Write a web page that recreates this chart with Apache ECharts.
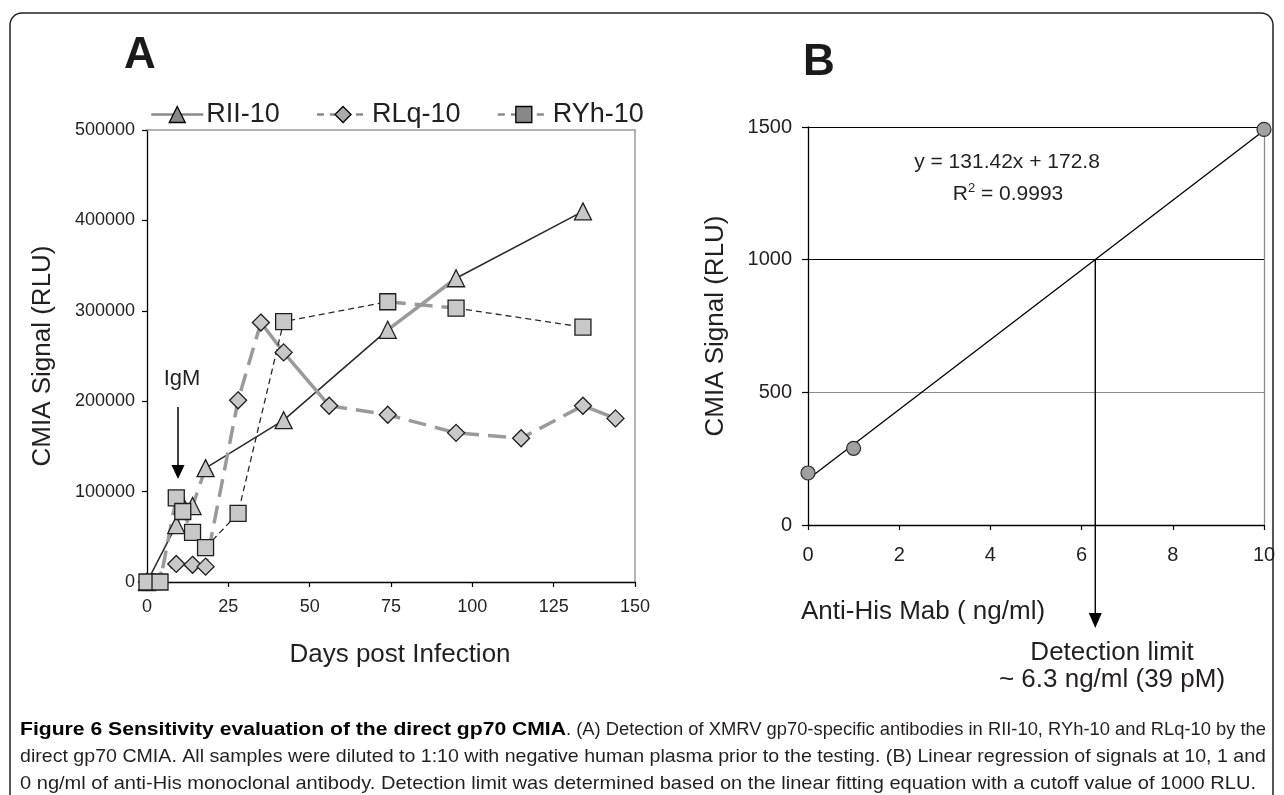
<!DOCTYPE html>
<html><head><meta charset="utf-8">
<script src="https://cdn.jsdelivr.net/npm/echarts@6/dist/echarts.min.js"></script>
<style>html,body{margin:0;padding:0;background:#fff}#c{width:1284px;height:795px}</style>
</head><body><div id="c"></div>
<script>
// ---------- Panel A data (days post infection, CMIA signal RLU) ----------
const seriesNames = ['RII-10', 'RLq-10', 'RYh-10'];
const riiDays   = [0, 9, 11, 14, 18, 42, 74, 95, 134];
const riiValues = [0, 63000, 85000, 84000, 126000, 179000, 279000, 336000, 410000];
const rlqDays   = [0, 9, 14, 18, 28, 35, 42, 56, 74, 95, 115, 134, 144];
const rlqValues = [0, 20000, 19000, 17000, 201000, 287000, 254000, 195000, 185000, 165000, 159000, 195000, 181000];
const ryhDays   = [0, 4, 9, 11, 14, 18, 28, 42, 74, 95, 134];
const ryhValues = [0, 0, 93000, 78000, 55000, 38000, 76000, 288000, 310000, 303000, 282000];
const xTicksA = [0, 25, 50, 75, 100, 125, 150];
const yTicksA = [0, 100000, 200000, 300000, 400000, 500000];

// ---------- Panel B data (anti-His Mab ng/ml, CMIA signal RLU) ----------
const mabConc   = [0, 1, 10];
const mabSignal = [196, 289, 1491];
const fitConc   = [0, 10];
const fitSignal = [172.8, 1487];
const detectionConc = 6.3;
const cutoffSignal  = 1000;
const xTicksB = [0, 2, 4, 6, 8, 10];
const yTicksB = [0, 500, 1000, 1500];

// ---------- styles ----------
const FONT = '"Liberation Sans", Arial, sans-serif';
const TXT = '#231f20';
const segStyles = {
  darkSolid: {color: '#2b2b2b', width: 1.6, type: 'solid'},
  greySolid: {color: '#9a9a9a', width: 3.5, type: 'solid'},
  greyDash:  {color: '#9a9a9a', width: 3.5, type: [18, 9]},
  darkDash:  {color: '#2b2b2b', width: 1.3, type: [6, 4]}
};
// segment styling by point index ranges
const riiSegs = [[0,1,'darkSolid'],[1,4,'greyDash'],[4,6,'darkSolid'],[6,7,'greySolid'],[7,8,'darkSolid']];
const rlqSegs = [[0,5,'greyDash'],[5,7,'greySolid'],[7,11,'greyDash'],[11,12,'greySolid']];
const ryhSegs = [[0,5,'greyDash'],[5,8,'darkDash'],[8,9,'greyDash'],[9,10,'darkDash']];

function segSeries(name, days, vals, segs) {
  return segs.map(([a, b, key], k) => ({
    type: 'line', name: name + ' seg' + k, xAxisIndex: 0, yAxisIndex: 0,
    data: days.slice(a, b + 1).map((d, i) => [d, vals[a + i]]),
    symbol: 'none', showSymbol: false, lineStyle: segStyles[key], z: 2, silent: true
  }));
}
function markerSeries(name, days, vals, symbol, size) {
  return {
    type: 'line', name: name, xAxisIndex: 0, yAxisIndex: 0,
    data: days.map((d, i) => [d, vals[i]]),
    symbol: symbol, symbolSize: size, showSymbol: true,
    lineStyle: {width: 0, opacity: 0},
    itemStyle: {color: '#c8c8c8', borderColor: '#1e1e1e', borderWidth: 1.3},
    z: 4
  };
}

const chart = echarts.init(document.getElementById('c'));

const axisBase = {
  axisLine: {show: true, onZero: false, lineStyle: {color: '#000', width: 1.3}},
  axisTick: {show: true, inside: false, length: 5, lineStyle: {color: '#000', width: 1.2}},
  splitLine: {show: false}
};
const borderAxis = {
  axisLine: {show: true, onZero: false, lineStyle: {color: '#9a9a9a', width: 1.5}},
  axisTick: {show: false}, axisLabel: {show: false}, splitLine: {show: false}
};

const option = {
  animation: false,
  backgroundColor: '#fff',
  textStyle: {fontFamily: FONT},
  grid: [
    {left: 147, top: 130, width: 488, height: 452, outerBoundsMode: 'none', containLabel: false},
    {left: 808, top: 127, width: 456, height: 398, outerBoundsMode: 'none', containLabel: false}
  ],
  legend: {
    left: 150, top: 101, padding: 0, itemGap: 36, itemWidth: 52, itemHeight: 20,
    textStyle: {fontSize: 27, fontFamily: FONT, color: TXT, padding: [0, 0, 0, -2]},
    selectedMode: false,
    data: [
      {name: seriesNames[0], itemStyle: {color: '#888', borderColor: '#000', borderWidth: 1.3},
       lineStyle: {color: '#8a8a8a', width: 2.5, type: 'solid', opacity: 1}},
      {name: seriesNames[1], itemStyle: {color: '#aaa', borderColor: '#000', borderWidth: 1.3},
       lineStyle: {color: '#8a8a8a', width: 2.5, type: [7, 6], opacity: 1}},
      {name: seriesNames[2], itemStyle: {color: '#888', borderColor: '#000', borderWidth: 1.3},
       lineStyle: {color: '#8a8a8a', width: 2.5, type: [7, 6], opacity: 1}}
    ]
  },
  xAxis: [
    Object.assign({}, axisBase, {
      type: 'value', gridIndex: 0, min: xTicksA[0], max: xTicksA[xTicksA.length - 1], interval: 25,
      axisLabel: {fontSize: 18, color: TXT, margin: 16, fontFamily: FONT},
      name: 'Days post Infection', nameLocation: 'middle', nameGap: 60,
      nameTextStyle: {fontSize: 26, color: TXT, fontFamily: FONT, padding: [0, 0, 0, 18]}
    }),
    Object.assign({}, borderAxis, {type: 'value', gridIndex: 0, position: 'top', min: 0, max: 150}),
    Object.assign({}, axisBase, {
      type: 'value', gridIndex: 1, min: xTicksB[0], max: xTicksB[xTicksB.length - 1], interval: 2,
      axisLabel: {fontSize: 20, color: TXT, margin: 20, fontFamily: FONT}
    })
  ],
  yAxis: [
    Object.assign({}, axisBase, {
      type: 'value', gridIndex: 0, min: yTicksA[0], max: yTicksA[yTicksA.length - 1], interval: 100000,
      axisLabel: {fontSize: 18, color: TXT, margin: 12, fontFamily: FONT, formatter: v => String(v)},
      name: 'CMIA Signal (RLU)', nameLocation: 'middle', nameGap: 91, nameRotate: 90,
      nameTextStyle: {fontSize: 26, color: TXT, fontFamily: FONT}, nameMoveOverlap: false
    }),
    Object.assign({}, borderAxis, {type: 'value', gridIndex: 0, position: 'right', min: 0, max: 500000}),
    Object.assign({}, axisBase, {
      type: 'value', gridIndex: 1, min: yTicksB[0], max: yTicksB[yTicksB.length - 1], interval: 500,
      axisTick: {show: true, inside: false, length: 6, lineStyle: {color: '#000', width: 1.2}},
      axisLabel: {fontSize: 20, color: TXT, margin: 16, fontFamily: FONT, formatter: v => String(v)},
      splitLine: {show: true, lineStyle: {color: ['#000', '#8a8a8a', '#000', '#000'], width: 1.2}},
      name: 'CMIA Signal (RLU)', nameLocation: 'middle', nameGap: 79, nameRotate: 90,
      nameTextStyle: {fontSize: 26, color: TXT, fontFamily: FONT}, nameMoveOverlap: false
    }),
    Object.assign({}, borderAxis, {type: 'value', gridIndex: 1, position: 'right', min: 0, max: 1500,
      axisLine: {show: true, onZero: false, lineStyle: {color: '#8a8a8a', width: 1.3}}})
  ],
  series: [].concat(
    segSeries(seriesNames[0], riiDays, riiValues, riiSegs),
    segSeries(seriesNames[1], rlqDays, rlqValues, rlqSegs),
    segSeries(seriesNames[2], ryhDays, ryhValues, ryhSegs),
    [
      markerSeries(seriesNames[0], riiDays, riiValues, 'triangle', 17),
      markerSeries(seriesNames[1], rlqDays, rlqValues, 'diamond', 17),
      markerSeries(seriesNames[2], ryhDays, ryhValues, 'rect', 16),
      {
        type: 'line', name: 'fit', xAxisIndex: 2, yAxisIndex: 2,
        data: fitConc.map((c, i) => [c, fitSignal[i]]),
        symbol: 'none', lineStyle: {color: '#000', width: 1.3}, z: 3, silent: true
      },
      {
        type: 'scatter', name: 'standards', xAxisIndex: 2, yAxisIndex: 2,
        data: mabConc.map((c, i) => [c, mabSignal[i]]),
        symbol: 'circle', symbolSize: 14,
        itemStyle: {color: '#a0a0a0', borderColor: '#2b2b2b', borderWidth: 1.2, opacity: 1}, z: 5
      }
    ]
  )
};
chart.setOption(option);

// ---------- annotations ----------
const mctx = document.createElement('canvas').getContext('2d');
function textW(t, font) { mctx.font = font; return mctx.measureText(t).width; }

const capBold = 'Figure 6 Sensitivity evaluation of the direct gp70 CMIA';
const capLines = [
  '. (A) Detection of XMRV gp70-specific antibodies in RII-10, RYh-10 and RLq-10 by the',
  'direct gp70 CMIA. All samples were diluted to 1:10 with negative human plasma prior to the testing. (B) Linear regression of signals at 10, 1 and',
  '0 ng/ml of anti-His monoclonal antibody. Detection limit was determined based on the linear fitting equation with a cutoff value of 1000 RLU.'
];
const capFS = 19;
const fB = 'bold ' + capFS + 'px "Liberation Sans", Arial, sans-serif';
const fN = capFS + 'px "Liberation Sans", Arial, sans-serif';
const capLeft = 20, capY = [730, 757, 784], capRight = [1266, 1266, 1256], capBoldRight = 566;
const graphics = [];
// outer rounded frame
graphics.push({type: 'rect', silent: true, z: 0, shape: {x: 10, y: 13, width: 1263, height: 830, r: 12},
  style: {fill: 'none', stroke: '#231f20', lineWidth: 1.5}});
// caption line 1 (bold lead + normal)
{
  const wb = textW(capBold, fB), wn = textW(capLines[0], fN);
  const sb = (capBoldRight - capLeft) / wb;
  const sn = (capRight[0] - capBoldRight) / wn;
  graphics.push({type: 'text', x: capLeft, y: capY[0], scaleX: sb, silent: true,
    style: {text: capBold, font: fB, fill: '#000', verticalAlign: 'middle', align: 'left'}});
  graphics.push({type: 'text', x: capBoldRight, y: capY[0], scaleX: sn, silent: true,
    style: {text: capLines[0], font: fN, fill: TXT, verticalAlign: 'middle', align: 'left'}});
}
for (let i = 1; i < 3; i++) {
  const wn = textW(capLines[i], fN);
  const s = (capRight[i] - capLeft) / wn;
  graphics.push({type: 'text', x: capLeft, y: capY[i], scaleX: s, silent: true,
    style: {text: capLines[i], font: fN, fill: TXT, verticalAlign: 'middle', align: 'left'}});
}
// panel letters
graphics.push({type: 'text', x: 140, y: 56, silent: true,
  style: {text: 'A', font: 'bold 44px "Liberation Sans", Arial, sans-serif', fill: '#1a1a1a', align: 'center', verticalAlign: 'middle'}});
graphics.push({type: 'text', x: 819, y: 63, silent: true,
  style: {text: 'B', font: 'bold 44px "Liberation Sans", Arial, sans-serif', fill: '#1a1a1a', align: 'center', verticalAlign: 'middle'}});
// IgM annotation
graphics.push({type: 'text', x: 182, y: 379, silent: true,
  style: {text: 'IgM', font: '22px "Liberation Sans", Arial, sans-serif', fill: TXT, align: 'center', verticalAlign: 'middle'}});
graphics.push({type: 'line', silent: true, shape: {x1: 178, y1: 407, x2: 178, y2: 466}, style: {stroke: '#000', lineWidth: 1.5}});
graphics.push({type: 'polygon', silent: true, shape: {points: [[171.5, 465], [184.5, 465], [178, 479]]}, style: {fill: '#000'}});
// Panel B annotations
const pDet = chart.convertToPixel({xAxisIndex: 2, yAxisIndex: 2}, [detectionConc, cutoffSignal]);
graphics.push({type: 'line', silent: true, z: 10, shape: {x1: pDet[0], y1: pDet[1], x2: pDet[0], y2: 614}, style: {stroke: '#000', lineWidth: 1.4}});
graphics.push({type: 'polygon', silent: true, z: 10, shape: {points: [[pDet[0] - 6.5, 613], [pDet[0] + 6.5, 613], [pDet[0], 628]]}, style: {fill: '#000'}});
graphics.push({type: 'text', x: 1007, y: 162, silent: true,
  style: {text: 'y = 131.42x + 172.8', font: '21px "Liberation Sans", Arial, sans-serif', fill: TXT, align: 'center', verticalAlign: 'middle'}});
graphics.push({type: 'text', x: 1008, y: 193, silent: true,
  style: {text: '{n|R}{s|2}{n| = 0.9993}', align: 'center', verticalAlign: 'middle',
    rich: {n: {fontSize: 21, fontFamily: FONT, fill: TXT, verticalAlign: 'bottom'},
           s: {fontSize: 13, fontFamily: FONT, fill: TXT, verticalAlign: 'top', padding: [0, 0, 10, 0]}}}});
graphics.push({type: 'text', x: 923, y: 612, silent: true,
  style: {text: 'Anti-His Mab ( ng/ml)', font: '26px "Liberation Sans", Arial, sans-serif', fill: TXT, align: 'center', verticalAlign: 'middle'}});
graphics.push({type: 'text', x: 1112, y: 653, silent: true,
  style: {text: 'Detection limit', font: '26px "Liberation Sans", Arial, sans-serif', fill: TXT, align: 'center', verticalAlign: 'middle'}});
graphics.push({type: 'text', x: 1112, y: 680, silent: true,
  style: {text: '~ 6.3 ng/ml (39 pM)', font: '26px "Liberation Sans", Arial, sans-serif', fill: TXT, align: 'center', verticalAlign: 'middle'}});

chart.setOption({graphic: graphics});
</script>
</body></html>
